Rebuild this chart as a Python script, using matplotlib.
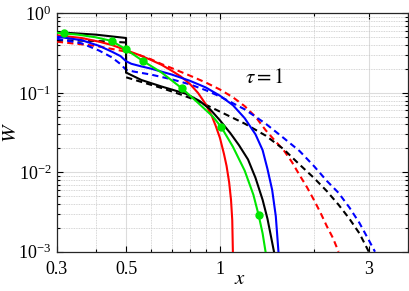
import numpy as np
import matplotlib
matplotlib.use('Agg')
import matplotlib.pyplot as plt
from matplotlib.ticker import FixedLocator, LogLocator, LogFormatterMathtext, NullFormatter

# ---------- data ----------
# black solid, jump at x = 0.5
bs_x = [0.30, 0.40, 0.50, 0.50, 0.56, 0.65, 0.78, 0.86, 0.93, 1.0, 1.08, 1.15, 1.23, 1.30, 1.37, 1.42, 1.46, 1.49]
bs_w = [0.58, 0.54, 0.49, 0.18, 0.145, 0.12, 0.097, 0.079, 0.062, 0.045, 0.031, 0.022, 0.0145, 0.0085, 0.0045, 0.0026, 0.0015, 0.001]

# black dashed, jump at x = 0.5
bd_x = [0.30, 0.40, 0.50, 0.50, 0.55, 0.65, 0.75, 0.85, 1.0, 1.2, 1.4, 1.6, 1.8, 2.0, 2.2, 2.4, 2.6, 2.8, 3.0]
bd_w = [0.46, 0.45, 0.43, 0.157, 0.14, 0.115, 0.095, 0.079, 0.058, 0.041, 0.029, 0.0195, 0.0125, 0.0085, 0.0058, 0.0039, 0.0026, 0.0017, 0.001]

# blue solid
ls_x = [0.30, 0.36, 0.41, 0.45, 0.48, 0.50, 0.52, 0.56, 0.60, 0.70, 0.80, 0.90, 1.0, 1.1, 1.2, 1.3, 1.37, 1.42, 1.47, 1.51, 1.54]
ls_w = [0.51, 0.46, 0.39, 0.33, 0.29, 0.25, 0.232, 0.215, 0.202, 0.17, 0.142, 0.117, 0.092, 0.07, 0.048, 0.03, 0.019, 0.011, 0.006, 0.0028, 0.001]

# blue dashed
ld_x = [0.30, 0.36, 0.41, 0.45, 0.48, 0.50, 0.53, 0.60, 0.70, 0.80, 0.90, 1.0, 1.2, 1.4, 1.6, 1.8, 2.0, 2.2, 2.4, 2.6, 2.8, 3.0, 3.14]
ld_w = [0.48, 0.42, 0.34, 0.28, 0.23, 0.195, 0.185, 0.17, 0.148, 0.128, 0.108, 0.09, 0.062, 0.041, 0.027, 0.0185, 0.012, 0.0078, 0.0055, 0.0036, 0.0023, 0.0014, 0.001]

# red solid
rs_x = [0.30, 0.36, 0.41, 0.45, 0.50, 0.55, 0.60, 0.65, 0.70, 0.75, 0.80, 0.85, 0.90, 0.94, 0.97, 1.0, 1.03, 1.05, 1.07, 1.085, 1.095, 1.10]
rs_w = [0.53, 0.49, 0.44, 0.40, 0.345, 0.30, 0.26, 0.225, 0.19, 0.16, 0.13, 0.1, 0.072, 0.052, 0.038, 0.027, 0.017, 0.012, 0.0075, 0.0045, 0.0025, 0.001]

# red dashed
rd_x = [0.30, 0.40, 0.50, 0.55, 0.60, 0.65, 0.70, 0.80, 0.90, 1.0, 1.1, 1.2, 1.3, 1.4, 1.5, 1.6, 1.7, 1.8, 1.9, 2.0, 2.1, 2.2, 2.3, 2.4]
rd_w = [0.44, 0.39, 0.33, 0.30, 0.265, 0.23, 0.205, 0.165, 0.135, 0.11, 0.088, 0.068, 0.05, 0.034, 0.025, 0.019, 0.0135, 0.0092, 0.0065, 0.0045, 0.0031, 0.0021, 0.0015, 0.001]

# green solid with markers
g_x = [0.30, 0.35, 0.40, 0.45, 0.50, 0.566, 0.65, 0.755, 0.85, 0.95, 1.01, 1.1, 1.2, 1.28, 1.33, 1.37, 1.40]
g_w = [0.57, 0.54, 0.50, 0.449, 0.352, 0.252, 0.18, 0.114, 0.075, 0.05, 0.037, 0.021, 0.0105, 0.0052, 0.0029, 0.0017, 0.001]
gm_x = [0.316, 0.45, 0.50, 0.566, 0.755, 1.01, 1.33]
gm_w = [0.565, 0.449, 0.352, 0.252, 0.114, 0.037, 0.0029]

xticks = [0.3, 0.5, 1, 3]
xticklabels = ['0.3', '0.5', '1', '3']

# ---------- plot ----------
plt.rcParams['font.family'] = ['Liberation Serif', 'DejaVu Serif']
plt.rcParams['mathtext.fontset'] = 'stix'

fig = plt.figure(figsize=(4.09, 2.91), dpi=100)
ax = fig.add_axes([0.139, 0.135, 0.858, 0.819])

ax.set_xscale('log')
ax.set_yscale('log')
ax.set_xlim(0.3, 4)
ax.set_ylim(1e-3, 1)

green = '#00e600'
dash = (0, (3, 2))
lw = 1.5
ax.plot(rd_x, rd_w, color='r', lw=lw, ls=dash, zorder=3)
ax.plot(bd_x, bd_w, color='k', lw=lw, ls=dash, zorder=3)
ax.plot(ld_x, ld_w, color='b', lw=lw, ls=dash, zorder=3)
ax.plot(rs_x, rs_w, color='r', lw=lw, zorder=4)
ax.plot(bs_x, bs_w, color='k', lw=lw, zorder=4)
ax.plot(ls_x, ls_w, color='b', lw=lw, zorder=4)
ax.plot(g_x, g_w, color=green, lw=lw, zorder=5)
ax.plot(gm_x, gm_w, 'o', color=green, ms=5, zorder=6)

ax.text(1.39, 0.15, r'$\tau = 1$', fontsize=15, ha='center', va='center')

# ticks, MATLAB-like
ax.xaxis.set_major_locator(FixedLocator(xticks))
ax.set_xticklabels(xticklabels)
ax.xaxis.set_minor_locator(FixedLocator([0.4, 0.6, 0.7, 0.8, 0.9, 2, 4]))
ax.xaxis.set_minor_formatter(NullFormatter())
ax.yaxis.set_major_locator(LogLocator(base=10, numticks=10))
ax.yaxis.set_major_formatter(LogFormatterMathtext())
ax.yaxis.set_minor_locator(LogLocator(base=10, subs=np.arange(2, 10), numticks=20))
ax.yaxis.set_minor_formatter(NullFormatter())
ax.tick_params(which='both', direction='in', top=True, right=True, labelsize=13, width=0.8)
ax.tick_params(which='major', length=4)
ax.tick_params(which='minor', length=2)
ax.tick_params(axis='x', which='major', pad=7)
ax.tick_params(axis='y', which='major', pad=4)

ax.grid(True, which='major', color='#dcdcdc', lw=0.8, ls='-')
ax.grid(True, which='minor', color='#c8c8c8', lw=0.6, ls=(0, (1, 1)))
ax.set_axisbelow(True)
for s in ax.spines.values():
    s.set_color('#262626')
    s.set_linewidth(0.9)

ax.set_xlabel(r'$x$', fontsize=15, va='center')
ax.xaxis.set_label_coords(0.521, -0.118)
ax.set_ylabel(r'$W$', fontsize=15, va='center')
ax.yaxis.set_label_coords(-0.128, 0.5)

fig.savefig('out.png', dpi=100)
